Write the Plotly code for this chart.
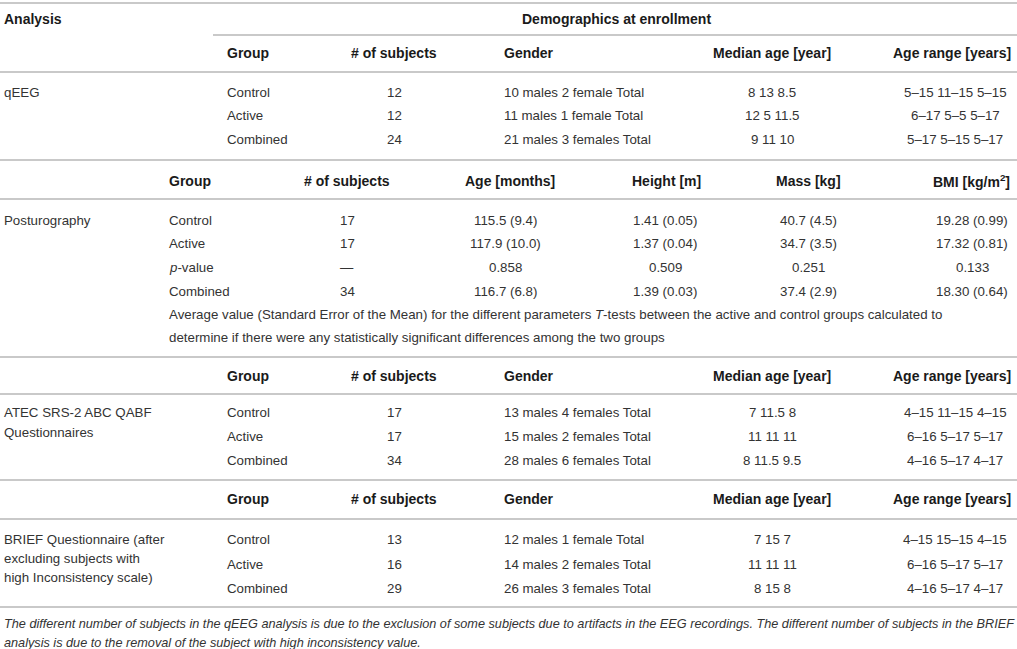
import plotly.graph_objects as go

W, H = 1017, 649

# ---- data ----
groups3 = ["Control", "Active", "Combined"]
groups4 = ["Control", "Active", "<i>p</i>-value", "Combined"]

demo_headers = ["Group", "# of subjects", "Gender", "Median age [year]", "Age range [years]"]
post_headers = ["Group", "# of subjects", "Age [months]", "Height [m]", "Mass [kg]", "BMI [kg/m<sup>2</sup>]"]

qeeg_n = ["12", "12", "24"]
qeeg_gender = ["10 males 2 female Total", "11 males 1 female Total", "21 males 3 females Total"]
qeeg_median = ["8 13 8.5", "12 5 11.5", "9 11 10"]
qeeg_range = ["5–15 11–15 5–15", "6–17 5–5 5–17", "5–17 5–15 5–17"]

post_n = ["17", "17", "—", "34"]
post_age = ["115.5 (9.4)", "117.9 (10.0)", "0.858", "116.7 (6.8)"]
post_height = ["1.41 (0.05)", "1.37 (0.04)", "0.509", "1.39 (0.03)"]
post_mass = ["40.7 (4.5)", "34.7 (3.5)", "0.251", "37.4 (2.9)"]
post_bmi = ["19.28 (0.99)", "17.32 (0.81)", "0.133", "18.30 (0.64)"]
post_note = ["Average value (Standard Error of the Mean) for the different parameters <i>T</i>-tests between the active and control groups calculated to",
             "determine if there were any statistically significant differences among the two groups"]

atec_n = ["17", "17", "34"]
atec_gender = ["13 males 4 females Total", "15 males 2 females Total", "28 males 6 females Total"]
atec_median = ["7 11.5 8", "11 11 11", "8 11.5 9.5"]
atec_range = ["4–15 11–15 4–15", "6–16 5–17 5–17", "4–16 5–17 4–17"]

brief_n = ["13", "16", "29"]
brief_gender = ["12 males 1 female Total", "14 males 2 females Total", "26 males 3 females Total"]
brief_median = ["7 15 7", "11 11 11", "8 15 8"]
brief_range = ["4–15 15–15 4–15", "6–16 5–17 5–17", "4–16 5–17 4–17"]

analysis_names = [["qEEG"], ["Posturography"], ["ATEC SRS-2 ABC QABF", "Questionnaires"],
                  ["BRIEF Questionnaire (after", "excluding subjects with", "high Inconsistency scale)"]]

footnote = ["The different number of subjects in the qEEG analysis is due to the exclusion of some subjects due to artifacts in the EEG recordings. The different number of subjects in the BRIEF",
            "analysis is due to the removal of the subject with high inconsistency value."]

# ---- layout helpers ----
FONT = "Liberation Sans, Arial, Helvetica, sans-serif"
TXT = "#333333"
HDR = "#1a1a1a"
LINE = "#c9c9c9"
FS = 13.3
FS_B = 14

ann = []
shapes = []


def txt(x, y, s, anchor="left", bold=False, italic=False, size=None):
    if bold:
        s = "<b>" + s + "</b>"
    if italic:
        s = "<i>" + s + "</i>"
    ann.append(dict(x=x, y=y, xref="x", yref="y", text=s, showarrow=False,
                    xanchor=anchor, yanchor="middle",
                    font=dict(family=FONT, size=size or (FS_B if bold else FS),
                              color=HDR if bold else TXT)))


def hline(y, x0=0, x1=W):
    shapes.append(dict(type="line", xref="x", yref="y", x0=x0, x1=x1, y0=y, y1=y,
                       line=dict(color=LINE, width=2)))


# column positions for demographic blocks: (x, anchor)
demo_cols = [(225, "left"), (394, "center"), (502, "left"), (772, "center"), (955, "center")]
demo_hdr_cols = [(225, "left"), (394, "center"), (502, "left"), (772, "center"), (1013, "right")]
post_cols = [(167, "left"), (347, "center"), (505, "center"), (665, "center"), (808, "center"), (972, "center")]
post_hdr_cols = [(167, "left"), (347, "center"), (510, "center"), (666, "center"), (808, "center"), (1012, "right")]


def demo_block(hdr_y, row_ys, n, gender, median, rng):
    for (x, a), h in zip(demo_hdr_cols, demo_headers):
        txt(x, hdr_y, h, a, bold=True)
    for i, y in enumerate(row_ys):
        vals = [groups3[i], n[i], gender[i], median[i], rng[i]]
        for (x, a), v in zip(demo_cols, vals):
            txt(x, y, v, a)


# top header
hline(3)
txt(2, 19, "Analysis", bold=True)
txt(520, 19, "Demographics at enrollment", bold=True)
hline(35, 213, W)

# qEEG
demo_block(53, [92, 115, 139], qeeg_n, qeeg_gender, qeeg_median, qeeg_range)
hline(72)
txt(2, 92, analysis_names[0][0])
hline(160)

# Posturography
for (x, a), h in zip(post_hdr_cols, post_headers):
    txt(x, 181, h, a, bold=True)
hline(199)
for i, y in enumerate([220, 243, 267, 291]):
    vals = [groups4[i], post_n[i], post_age[i], post_height[i], post_mass[i], post_bmi[i]]
    for (x, a), v in zip(post_cols, vals):
        txt(x, y, v, a)
txt(2, 220, analysis_names[1][0])
for k, line in enumerate(post_note):
    txt(167, 314 + k * 23, line)
hline(357)

# ATEC
demo_block(376, [412, 436, 460], atec_n, atec_gender, atec_median, atec_range)
hline(394)
for k, line in enumerate(analysis_names[2]):
    txt(2, 412 + k * 20, line)
hline(480)

# BRIEF
demo_block(499, [539, 564, 588], brief_n, brief_gender, brief_median, brief_range)
hline(519)
for k, line in enumerate(analysis_names[3]):
    txt(2, 539 + k * 19, line)
hline(607)

# footnote
for k, line in enumerate(footnote):
    txt(2, 624 + k * 19, line, italic=True, size=12.7)

fig = go.Figure()
fig.update_layout(
    width=W, height=H,
    margin=dict(l=0, r=0, t=0, b=0),
    paper_bgcolor="white", plot_bgcolor="white",
    xaxis=dict(range=[0, W], visible=False, fixedrange=True),
    yaxis=dict(range=[H, 0], visible=False, fixedrange=True),
    annotations=ann, shapes=shapes,
    showlegend=False,
)
fig.write_html("out.html", config={"displayModeBar": False},
               post_script="document.body.style.margin='0';document.body.style.overflow='hidden';")
